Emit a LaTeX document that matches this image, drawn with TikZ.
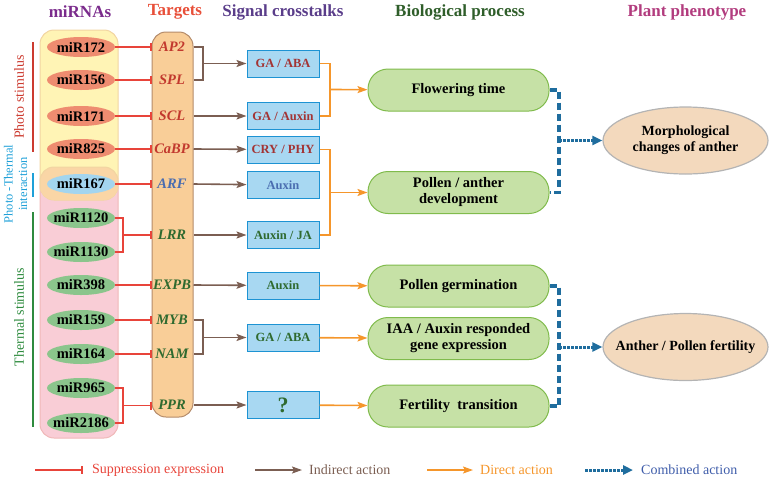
\documentclass[tikz,border=0pt]{standalone}
\usepackage{fontspec}
\setmainfont{Liberation Serif}
\usepackage{tikz}
\usetikzlibrary{positioning, arrows.meta, shapes.geometric, calc}

\definecolor{hdrpurple}{HTML}{7B2C8C}
\definecolor{hdrred}{HTML}{E8503A}
\definecolor{hdrviolet}{HTML}{5A3D8A}
\definecolor{hdrgreen}{HTML}{2F5E2A}
\definecolor{hdrpink}{HTML}{B23C7E}
\definecolor{supred}{HTML}{E8443A}
\definecolor{photored}{HTML}{CC3B30}
\definecolor{ptblue}{HTML}{1EA0D8}
\definecolor{thgreen}{HTML}{2E8B3E}
\definecolor{indbrown}{HTML}{7B5E52}
\definecolor{dirorange}{HTML}{F5962B}
\definecolor{combblue}{HTML}{1F6D9E}
\definecolor{legblue}{HTML}{3F5DAA}
\definecolor{mirsalmon}{HTML}{EE8C70}
\definecolor{mirblue}{HTML}{A3D5EF}
\definecolor{mirgreen}{HTML}{8BC58C}
\definecolor{yelfill}{HTML}{FFF4B5}
\definecolor{yeledge}{HTML}{F2D5A2}
\definecolor{pinkfill}{HTML}{F9CDD6}
\definecolor{pinkedge}{HTML}{F0B8B8}
\definecolor{peachfill}{HTML}{FAD6A6}
\definecolor{tgtfill}{HTML}{F9CE98}
\definecolor{tgtedge}{HTML}{B48B6A}
\definecolor{tgtred}{HTML}{C2392E}
\definecolor{txtblue}{HTML}{4A6DB0}
\definecolor{txtgreen}{HTML}{2F6A2F}
\definecolor{sigred}{HTML}{A33434}
\definecolor{sigfill}{HTML}{A8D8F2}
\definecolor{sigedge}{HTML}{1D93D3}
\definecolor{biofill}{HTML}{C6E1A6}
\definecolor{bioedge}{HTML}{80BB4C}
\definecolor{phenofill}{HTML}{F3D9BD}
\definecolor{phenoedge}{HTML}{B4B4B4}

\begin{document}
\begin{tikzpicture}[x=1pt, y=-1pt,
  hdr/.style={font=\fontsize{17}{20}\selectfont\bfseries},
  mir/.style={ellipse, minimum width=68pt, minimum height=20pt, inner xsep=-6pt, inner ysep=0pt, font=\fontsize{14.5}{16}\selectfont\bfseries},
  tgt/.style={inner sep=0pt, font=\fontsize{14.5}{16}\selectfont\bfseries\itshape},
  sig/.style={draw=sigedge, fill=sigfill, line width=1pt, minimum width=72pt, minimum height=27pt, inner sep=0pt, font=\fontsize{12.5}{14}\selectfont\bfseries},
  bio/.style={draw=bioedge, fill=biofill, line width=1pt, rounded corners=20pt, minimum width=181pt, minimum height=42pt, inner sep=0pt, align=center, font=\fontsize{14.5}{16}\selectfont\bfseries},
  pheno/.style={ellipse, draw=phenoedge, fill=phenofill, line width=1.2pt, minimum width=165pt, minimum height=67pt, inner xsep=-20pt, inner ysep=0pt, align=center, font=\fontsize{14}{16}\selectfont\bfseries},
  side/.style={rotate=90, align=center, font=\fontsize{14}{16}\selectfont},
  legtxt/.style={inner sep=0pt, anchor=west, font=\fontsize{14}{16}\selectfont},
  supline/.style={draw=supred, line width=1.6pt},
  sup/.style={supline, -{Bar[width=8pt]}},
  indline/.style={draw=indbrown, line width=1.6pt},
  ind/.style={indline, -{Stealth[length=10pt, width=7pt, inset=2pt]}},
  dirline/.style={draw=dirorange, line width=1.6pt},
  dir/.style={dirline, -{Stealth[length=10pt, width=7pt, inset=2pt]}},
  comb/.style={draw=combblue, line width=3.5pt, dash pattern=on 7pt off 4pt},
  combarr/.style={draw=combblue, line width=3pt, dash pattern=on 2.5pt off 1.5pt, -{Triangle[length=10pt, width=9pt]}}
]
\useasboundingbox (0,0) rectangle (773,480);

% column headers
\node[hdr, text=hdrpurple] (hmir) at (80,12) {miRNAs};
\node[hdr, text=hdrred] (htgt) at (175,12) {Targets};
\node[hdr, text=hdrviolet] (hsig) at (283,12) {Signal crosstalks};
\node[hdr, text=hdrgreen] (hbio) at (460,12) {Biological process};
\node[hdr, text=hdrpink] (hphe) at (687,12) {Plant phenotype};

% stimulus groups
\draw[fill=pinkfill, draw=pinkedge, line width=1pt, rounded corners=14pt] (40,167) rectangle (118,438);
\draw[fill=yelfill, draw=yeledge, line width=1pt, rounded corners=14pt] (40,30) rectangle (118,200);
\begin{scope}
  \clip[rounded corners=14pt] (40,30) rectangle (118,200);
  \draw[fill=peachfill, draw=yeledge, line width=1pt, rounded corners=14pt] (40,167) rectangle (118,438);
\end{scope}

\draw[photored, line width=1.5pt] (33,42) -- (33,152);
\draw[ptblue, line width=1.5pt] (33,173) -- (33,197);
\draw[thgreen, line width=1.5pt] (33,212) -- (33,427);
\node[side, text=photored] (lphoto) at (19,97) {Photo stimulus};
\node[side, text=ptblue, font=\fontsize{12.5}{14.5}\selectfont] (lpt) at (15.5,184) {Photo -Thermal\\interaction};
\node[side, text=thgreen] (lthermal) at (19,317) {Thermal stimulus};

% miRNAs
\node[mir, fill=mirsalmon] (m172) at (81,47) {miR172};
\node[mir, fill=mirsalmon] (m156) at (81,80) {miR156};
\node[mir, fill=mirsalmon] (m171) at (81,116) {miR171};
\node[mir, fill=mirsalmon] (m825) at (81,149) {miR825};
\node[mir, fill=mirblue] (m167) at (81,184) {miR167};
\node[mir, fill=mirgreen] (m1120) at (81,218) {miR1120};
\node[mir, fill=mirgreen] (m1130) at (81,252) {miR1130};
\node[mir, fill=mirgreen] (m398) at (81,285) {miR398};
\node[mir, fill=mirgreen] (m159) at (81,320) {miR159};
\node[mir, fill=mirgreen] (m164) at (81,354) {miR164};
\node[mir, fill=mirgreen] (m965) at (81,388) {miR965};
\node[mir, fill=mirgreen] (m2186) at (81,423) {miR2186};

% targets
\node[draw=tgtedge, fill=tgtfill, line width=1pt, rounded corners=14pt, minimum width=41pt, minimum height=385pt, inner sep=0pt] (tgtbox) at (172.5,224.5) {};
\node[tgt, text=tgtred] (tap2) at (172,47) {AP2};
\node[tgt, text=tgtred] (tspl) at (172,80) {SPL};
\node[tgt, text=tgtred] (tscl) at (172,116) {SCL};
\node[tgt, text=tgtred] (tcabp) at (172,149) {CaBP};
\node[tgt, text=txtblue] (tarf) at (172,184) {ARF};
\node[tgt, text=txtgreen] (tlrr) at (172,235) {LRR};
\node[tgt, text=txtgreen] (texpb) at (172,285) {EXPB};
\node[tgt, text=txtgreen] (tmyb) at (172,320) {MYB};
\node[tgt, text=txtgreen] (tnam) at (172,354) {NAM};
\node[tgt, text=txtgreen] (tppr) at (172,405) {PPR};

% signal crosstalks
\node[sig, text=sigred] (sgaaba) at (283,63.5) {GA / ABA};
\node[sig, text=sigred] (sgaaux) at (283,116) {GA / Auxin};
\node[sig, text=sigred] (scry) at (283,149.5) {CRY / PHY};
\node[sig, text=txtblue] (saux) at (283,185) {Auxin};
\node[sig, text=txtgreen] (sauxja) at (283,235) {Auxin / JA};
\node[sig, text=txtgreen] (saux2) at (283,285.5) {Auxin};
\node[sig, text=txtgreen] (sgaaba2) at (283,337.5) {GA / ABA};
\node[sig, text=txtgreen, font=\fontsize{22}{24}\selectfont\bfseries] (sq) at (283,405) {?};

% biological processes
\node[bio] (bflow) at (458.5,90) {Flowering time};
\node[bio] (bpollen) at (458.5,192.5) {Pollen / anther\\development};
\node[bio] (bgerm) at (458.5,286) {Pollen germination};
\node[bio] (biaa) at (458.5,338.5) {IAA / Auxin responded\\gene expression};
\node[bio] (bfert) at (458.5,406) {Fertility\ \ transition};

% plant phenotypes
\node[pheno] (pmorph) at (685.5,140.5) {Morphological\\changes of anther};
\node[pheno] (pfert) at (685.5,347) {Anther / Pollen fertility};

% suppression
\foreach \m in {m172,m156,m171,m825,m167,m398,m159,m164}
  \draw[sup] (\m) -- (\m -| tgtbox.west);
\coordinate (r1) at (123,235);
\coordinate (r2) at (123,405.5);
\draw[supline] (m1120.east) -| (r1) |- (m1130.east);
\draw[sup] (r1) -- (r1 -| tgtbox.west);
\draw[supline] (m965.east) -| (r2) |- (m2186.east);
\draw[sup] (r2) -- (r2 -| tgtbox.west);

% indirect action
\coordinate (b1) at (203,63.5);
\coordinate (b2) at (203,337.5);
\draw[indline] (tap2 -| tgtbox.east) -| (b1) |- (tspl -| tgtbox.east);
\draw[ind] (b1) -- (sgaaba);
\draw[ind] (tscl -| tgtbox.east) -- (sgaaux);
\draw[ind] (tcabp -| tgtbox.east) -- (scry);
\draw[ind] (tarf -| tgtbox.east) -- (saux);
\draw[ind] (tlrr -| tgtbox.east) -- (sauxja);
\draw[ind] (texpb -| tgtbox.east) -- (saux2);
\draw[indline] (tmyb -| tgtbox.east) -| (b2) |- (tnam -| tgtbox.east);
\draw[ind] (b2) -- (sgaaba2);
\draw[ind] (tppr -| tgtbox.east) -- (sq);

% direct action
\coordinate (o1) at (330,89.5);
\coordinate (o2) at (330,192.5);
\draw[dirline] (sgaaba.east) -| (o1) |- (sgaaux.east);
\draw[dir] (o1) -- (bflow);
\draw[dirline] (scry.east) -| (o2) |- (sauxja.east);
\draw[dir] (o2) -- (bpollen);
\draw[dir] (saux2) -- (bgerm);
\draw[dir] (sgaaba2) -- (biaa);
\draw[dir] (sq) -- (bfert);

% combined action
\coordinate (k1) at (559,140.5);
\coordinate (k2) at (559,347);
\draw[comb] (bflow.east) -| (k1) |- (bpollen.east);
\draw[combarr] (k1) -- (pmorph);
\draw[comb] (bgerm.east) -| (k2) |- (bfert.east);
\draw[combarr] (k2) -- (pfert);

% legend
\coordinate (lgsupA) at (35,470);
\coordinate (lgsupB) at (83,470);
\coordinate (lgindA) at (255,470);
\coordinate (lgindB) at (302,470);
\coordinate (lgdirA) at (427,470);
\coordinate (lgdirB) at (473,470);
\coordinate (lgcombA) at (585,470);
\coordinate (lgcombB) at (633,470);
\draw[sup] (lgsupA) -- (lgsupB);
\draw[ind] (lgindA) -- (lgindB);
\draw[dir] (lgdirA) -- (lgdirB);
\draw[combarr] (lgcombA) -- (lgcombB);
\node[legtxt, text=supred, right=9pt of lgsupB] (lgsup) {Suppression expression};
\node[legtxt, text=indbrown, right=7pt of lgindB] (lgind) {Indirect action};
\node[legtxt, text=dirorange, right=7pt of lgdirB] (lgdir) {Direct action};
\node[legtxt, text=legblue, right=8pt of lgcombB] (lgcomb) {Combined action};
\end{tikzpicture}
\end{document}
